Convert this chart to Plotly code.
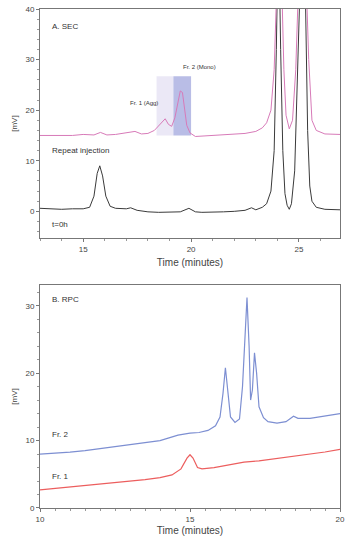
import plotly.graph_objects as go

# ---- Panel A (SEC) ----
a_time_black = [13.0, 13.5, 14.0, 14.5, 15.0, 15.3, 15.5, 15.65, 15.77, 15.9, 16.05, 16.25, 16.5, 17.0, 17.2, 17.5,
                18.0, 18.5, 19.0, 19.5, 19.9, 20.2, 20.5, 21.0, 21.5, 22.0, 22.5, 22.8, 23.0, 23.3, 23.5, 23.7,
                23.85, 23.95, 24.05, 24.15, 24.25, 24.35, 24.45, 24.55, 24.65, 24.8, 24.95, 25.1, 25.2, 25.3,
                25.4, 25.5, 25.6, 25.8, 26.2, 26.9]
a_sig_black = [0.6, 0.5, 0.4, 0.5, 0.5, 0.8, 3.0, 7.5, 9.0, 7.0, 3.0, 1.0, 0.6, 0.5, 0.7, 0.2,
               -0.1, -0.2, -0.2, -0.1, 0.6, -0.1, -0.2, -0.2, -0.1, 0.0, 0.2, 0.7, 0.3, 0.8, 1.5, 4.0,
               12.0, 32.0, 58.0, 32.0, 12.0, 3.5, 1.2, 0.4, 1.5, 8.0, 30.0, 52.0, 58.0, 42.0,
               16.0, 5.0, 2.0, 0.8, 0.4, 0.3]

a_time_pink = [13.0, 13.5, 14.0, 14.5, 15.0, 15.5, 15.8, 16.1, 16.5, 17.0, 17.4, 17.7, 18.0, 18.3, 18.6, 18.8,
               18.95, 19.1, 19.25, 19.4, 19.5, 19.6, 19.7, 19.8, 19.95, 20.2, 20.6, 21.0, 21.5, 22.0, 22.5,
               23.0, 23.3, 23.5, 23.7, 23.85, 23.95, 24.1, 24.2, 24.3, 24.4, 24.55, 24.7, 24.85, 25.0, 25.15,
               25.3, 25.45, 25.6, 25.8, 26.2, 26.9]
a_sig_pink = [15.0, 15.0, 15.1, 15.0, 15.2, 15.1, 15.6, 15.1, 15.2, 15.5, 15.8, 15.3, 15.4, 16.0, 17.5, 18.3,
              17.2, 16.8, 18.5, 22.0, 23.8, 23.5, 20.5, 17.0, 15.5, 14.8, 14.9, 15.0, 15.1, 15.2, 15.4,
              15.8, 16.5, 17.5, 20.0, 28.0, 45.0, 62.0, 45.0, 28.0, 19.0, 16.3, 18.0, 28.0, 48.0, 62.0,
              50.0, 30.0, 18.0, 16.0, 15.3, 15.2]

# fraction windows (minutes)
frac1_window = [18.4, 19.18]
frac2_window = [19.18, 20.0]
frac_band = [15.0, 26.7]

# ---- Panel B (RPC) ----
b_time_fr2 = [10.0, 10.5, 11.0, 11.5, 12.0, 12.5, 13.0, 13.5, 14.0, 14.3, 14.6, 15.0, 15.3, 15.6, 15.85, 16.0,
              16.1, 16.18, 16.26, 16.35, 16.5, 16.65, 16.75, 16.83, 16.9, 16.97, 17.02, 17.08, 17.15, 17.22,
              17.3, 17.45, 17.6, 17.9, 18.2, 18.45, 18.6, 19.0, 19.5, 20.0]
b_sig_fr2 = [8.0, 8.1, 8.3, 8.5, 8.8, 9.0, 9.3, 9.6, 10.0, 10.4, 10.8, 11.1, 11.2, 11.5, 12.2, 13.5,
             17.0, 20.8, 17.0, 13.5, 12.7, 13.2, 18.0, 25.0, 31.2, 24.0, 16.0, 17.5, 23.0, 20.0,
             15.0, 13.4, 12.8, 12.6, 12.8, 13.6, 13.3, 13.3, 13.6, 14.0]

b_time_fr1 = [10.0, 10.5, 11.0, 11.5, 12.0, 12.5, 13.0, 13.5, 14.0, 14.4, 14.7, 14.9, 15.0, 15.1, 15.25, 15.4,
              15.8, 16.3, 16.8, 17.3, 18.0, 18.5, 19.0, 19.5, 20.0]
b_sig_fr1 = [2.7, 2.9, 3.1, 3.3, 3.5, 3.7, 3.9, 4.2, 4.5, 4.9, 5.8, 7.4, 7.9, 7.4, 6.0, 5.8,
             6.0, 6.4, 6.8, 7.0, 7.4, 7.7, 8.0, 8.3, 8.7]

a_xticks = [15, 20, 25]
a_yticks = [0, 10, 20, 30, 40]
b_xticks = [10, 15, 20]
b_yticks = [0, 10, 20, 30]

fig = go.Figure()
fig.add_trace(go.Scatter(x=a_time_black, y=a_sig_black, mode="lines", line=dict(color="#3a3a3a", width=1),
                         xaxis="x", yaxis="y", showlegend=False))
fig.add_trace(go.Scatter(x=a_time_pink, y=a_sig_pink, mode="lines", line=dict(color="#d77ab8", width=1),
                         xaxis="x", yaxis="y", showlegend=False))
fig.add_trace(go.Scatter(x=b_time_fr2, y=b_sig_fr2, mode="lines", line=dict(color="#7d8fd2", width=1.2),
                         xaxis="x2", yaxis="y2", showlegend=False))
fig.add_trace(go.Scatter(x=b_time_fr1, y=b_sig_fr1, mode="lines", line=dict(color="#ec5e5e", width=1.2),
                         xaxis="x2", yaxis="y2", showlegend=False))

fig.add_shape(type="rect", xref="x", yref="y", x0=frac1_window[0], x1=frac1_window[1],
              y0=frac_band[0], y1=frac_band[1], fillcolor="#ebe8f6", line=dict(width=0), layer="below")
fig.add_shape(type="rect", xref="x", yref="y", x0=frac2_window[0], x1=frac2_window[1],
              y0=frac_band[0], y1=frac_band[1], fillcolor="#b9bde6", line=dict(width=0), layer="below")

axis_common = dict(showline=True, linecolor="#777", linewidth=1, mirror=True, ticks="outside",
                   ticklen=3, tickcolor="#777", tickfont=dict(size=8, color="#444", family="Arial"),
                   showgrid=False, zeroline=False,
                   minor=dict(ticks="outside", ticklen=2, tickcolor="#999"))
title_font = dict(size=10, color="#444", family="Arial")

fig.update_layout(
    width=350, height=547, margin=dict(l=40, r=7, t=5, b=39),
    plot_bgcolor="white", paper_bgcolor="white",
    xaxis=dict(domain=[0, 1], anchor="y", range=[13.0, 26.9], tickvals=a_xticks,
               title=dict(text="Time (minutes)", font=title_font, standoff=6),
               **axis_common),
    yaxis=dict(domain=[0.5408, 1], anchor="x", range=[-5.3, 40], tickvals=a_yticks,
               title=dict(text="[mV]", font=dict(size=8, color="#444", family="Arial"), standoff=6),
               **axis_common),
    xaxis2=dict(domain=[0, 1], anchor="y2", range=[10, 20], tickvals=b_xticks,
                title=dict(text="Time (minutes)", font=title_font, standoff=4),
                **axis_common),
    yaxis2=dict(domain=[0, 0.4473], anchor="x2", range=[0, 33.1], tickvals=b_yticks,
                title=dict(text="[mV]", font=dict(size=8, color="#444", family="Arial"), standoff=6),
                **axis_common),
)

lab = dict(showarrow=False, font=dict(size=6, color="#333", family="Arial"), xanchor="left")
big = dict(showarrow=False, font=dict(size=8, color="#333", family="Arial"), xanchor="left")
fig.add_annotation(x=13.45, y=36.5, xref="x", yref="y", text="A. SEC", **big)
fig.add_annotation(x=17.1, y=21.4, xref="x", yref="y", text="Fr. 1 (Agg)", **lab)
fig.add_annotation(x=19.55, y=28.6, xref="x", yref="y", text="Fr. 2 (Mono)", **lab)
fig.add_annotation(x=13.45, y=12.0, xref="x", yref="y", text="Repeat injection", **big)
fig.add_annotation(x=13.45, y=-2.6, xref="x", yref="y", text="t=0h", **big)
fig.add_annotation(x=10.33, y=30.9, xref="x2", yref="y2", text="B. RPC", **big)
fig.add_annotation(x=10.33, y=10.9, xref="x2", yref="y2", text="Fr. 2", **big)
fig.add_annotation(x=10.33, y=4.7, xref="x2", yref="y2", text="Fr. 1", **big)

fig.write_html("out.html")
